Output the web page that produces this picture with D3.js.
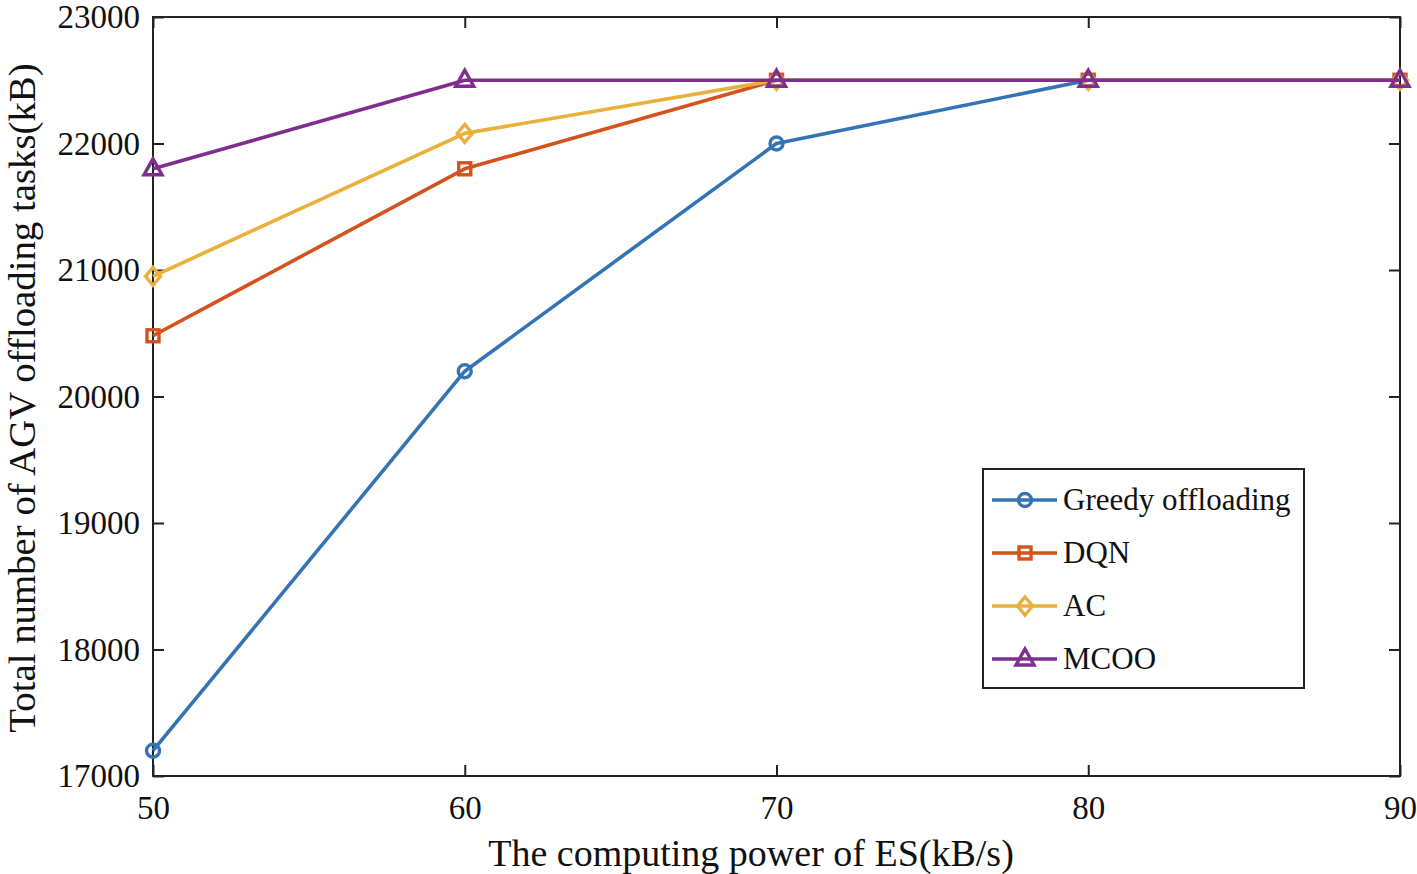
<!DOCTYPE html>
<html><head><meta charset="utf-8">
<script src="https://cdn.jsdelivr.net/npm/d3@7"></script>
<style>body{margin:0;background:#fff}</style>
</head><body>
<svg id="c" width="1417" height="874"></svg>
<script>
const xValues = [50, 60, 70, 80, 90];
const greedy = [17200, 20200, 22000, 22500, 22500];
const dqn = [20480, 21800, 22500, 22500, 22500];
const ac = [20950, 22080, 22500, 22500, 22500];
const mcoo = [21800, 22500, 22500, 22500, 22500];
const seriesNames = ["Greedy offloading", "DQN", "AC", "MCOO"];
const yTicks = [17000, 18000, 19000, 20000, 21000, 22000, 23000];
const xTicks = [50, 60, 70, 80, 90];

const series = [
  {name: seriesNames[0], values: greedy, color: "#3474b4", marker: "circle"},
  {name: seriesNames[1], values: dqn, color: "#d4531d", marker: "square"},
  {name: seriesNames[2], values: ac, color: "#e9b03c", marker: "diamond"},
  {name: seriesNames[3], values: mcoo, color: "#7e2f8e", marker: "triangle"}
];

const svg = d3.select("#c");
const L = 153, R = 1400, T = 17, B = 776;
const x = d3.scaleLinear().domain([50, 90]).range([L, R]);
const y = d3.scaleLinear().domain([17000, 23000]).range([B, T]);
const font = "'Liberation Serif', 'Times New Roman', serif";

const ax = svg.append("g");
const tickLen = 11;
ax.append("g").attr("transform", `translate(0,${B})`)
  .call(d3.axisBottom(x).tickValues(xTicks).tickSizeInner(-tickLen).tickSizeOuter(0).tickPadding(20).tickFormat(d3.format("d")))
  .call(g => g.select(".domain").remove());
ax.append("g").attr("transform", `translate(0,${T})`)
  .call(d3.axisTop(x).tickValues(xTicks).tickSizeInner(-tickLen).tickSizeOuter(0).tickFormat(""))
  .call(g => g.select(".domain").remove());
ax.append("g").attr("transform", `translate(${L},0)`)
  .call(d3.axisLeft(y).tickValues(yTicks).tickSizeInner(-tickLen).tickSizeOuter(0).tickPadding(13).tickFormat(d3.format("d")))
  .call(g => g.select(".domain").remove());
ax.append("g").attr("transform", `translate(${R},0)`)
  .call(d3.axisRight(y).tickValues(yTicks).tickSizeInner(-tickLen).tickSizeOuter(0).tickFormat(""))
  .call(g => g.select(".domain").remove());
ax.selectAll(".tick line").attr("stroke", "#222").attr("stroke-width", 2);
ax.selectAll("g").attr("font-family", font).attr("font-size", 33);
ax.selectAll(".tick text").attr("fill", "#111");

svg.append("rect").attr("x", L).attr("y", T).attr("width", R - L).attr("height", B - T)
  .attr("fill", "none").attr("stroke", "#222").attr("stroke-width", 2);

svg.append("text").attr("x", 751).attr("y", 866).attr("text-anchor", "middle")
  .attr("font-family", font).attr("font-size", 38).attr("fill", "#111")
  .text("The computing power of ES(kB/s)");
svg.append("text").attr("transform", `translate(35,398) rotate(-90)`)
  .attr("text-anchor", "middle").attr("font-family", font).attr("font-size", 38.8).attr("fill", "#111")
  .text("Total number of AGV offloading tasks(kB)");

function drawMarker(g, type, cx, cy, color) {
  let el;
  if (type === "circle") el = g.append("circle").attr("cx", cx).attr("cy", cy).attr("r", 6.5);
  else if (type === "square") el = g.append("rect").attr("x", cx - 6).attr("y", cy - 6).attr("width", 12).attr("height", 12);
  else if (type === "diamond") el = g.append("path").attr("d", `M${cx},${cy - 9}L${cx + 7.5},${cy}L${cx},${cy + 9}L${cx - 7.5},${cy}Z`);
  else el = g.append("path").attr("d", `M${cx},${cy - 10}L${cx + 9},${cy + 6}L${cx - 9},${cy + 6}Z`);
  el.attr("fill", "none").attr("stroke", color).attr("stroke-width", 3.4);
}

const line = d3.line().x((d, i) => x(xValues[i])).y(d => y(d));
const plot = svg.append("g");
series.forEach(s => {
  plot.append("path").datum(s.values).attr("d", line).attr("fill", "none")
    .attr("stroke", s.color).attr("stroke-width", 3.6).attr("stroke-linejoin", "round");
  s.values.forEach((v, i) => drawMarker(plot, s.marker, x(xValues[i]), y(v), s.color));
});

const lg = svg.append("g");
lg.append("rect").attr("x", 983).attr("y", 469).attr("width", 321).attr("height", 219)
  .attr("fill", "#fff").attr("stroke", "#222").attr("stroke-width", 2);
series.forEach((s, i) => {
  const cy = 500 + i * 53;
  lg.append("line").attr("x1", 992).attr("x2", 1057).attr("y1", cy).attr("y2", cy)
    .attr("stroke", s.color).attr("stroke-width", 3.6);
  drawMarker(lg, s.marker, 1025, cy, s.color);
  lg.append("text").attr("x", 1063).attr("y", cy + 10).attr("font-family", font)
    .attr("font-size", 31).attr("fill", "#111").text(s.name);
});
</script>
</body></html>
